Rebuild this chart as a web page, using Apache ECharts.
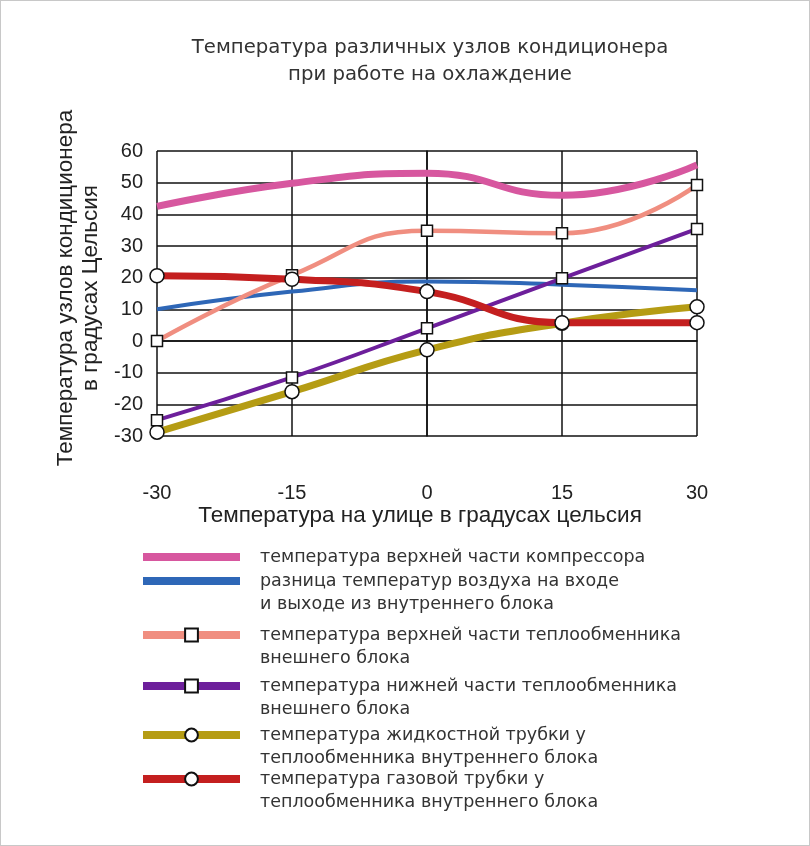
<!DOCTYPE html>
<html><head><meta charset="utf-8">
<script src="https://cdn.jsdelivr.net/npm/echarts@6/dist/echarts.min.js"></script>
<style>
html,body{margin:0;padding:0;background:#fff}
#wrap{position:relative;width:810px;height:846px}
#c{width:810px;height:846px}
#frame{position:absolute;left:0;top:0;width:810px;height:846px;box-sizing:border-box;border:1px solid #c8c8c8;pointer-events:none}
</style>
</head><body><div id="wrap"><div id="c"></div><div id="frame"></div></div>
<script>
// ---- data ----
const outdoorTemps = [-30, -15, 0, 15, 30];
const xTickLabels = ['-30', '-15', '0', '15', '30'];
const compressorTop = [42.5, 49.8, 53, 46, 55.6];
const airDelta = [10, 15.6, 18.8, 17.8, 16];
const outerHxTop = [0, 20.8, 34.8, 34, 49.3];
const outerHxBottom = [-25, -11.5, 4, 19.8, 35.4];
const liquidPipe = [-28.8, -16, -2.8, 5.6, 10.8];
const gasPipe = [20.6, 19.5, 15.6, 5.8, 5.8];

const names = [
  'температура верхней части компрессора',
  'разница температур воздуха на входе\nи выходе из внутреннего блока',
  'температура верхней части теплообменника\nвнешнего блока',
  'температура нижней части теплообменника\nвнешнего блока',
  'температура жидкостной трубки у\nтеплообменника внутреннего блока',
  'температура газовой трубки у\nтеплообменника внутреннего блока'
];
const colors = ['#d7579f', '#2e67b7', '#f08e80', '#6d1f9b', '#b59c14', '#c41f1f'];
const values = [compressorTop, airDelta, outerHxTop, outerHxBottom, liquidPipe, gasPipe];
const symbols = ['none', 'none', 'rect', 'rect', 'circle', 'circle'];
const symbolSizes = [0, 0, 11, 11, 14, 14];
const widths = [7, 4, 4.5, 4, 7, 7];
const drawOrder = [1, 0, 4, 3, 2, 5]; // z order
const legendCenters = [557, 581, 635, 686, 735, 779];
const legendLines = [1, 2, 2, 2, 2, 2];

const FONT = '"Liberation Sans", Arial, sans-serif';
const WIDE = '"DejaVu Sans", Verdana, sans-serif';
const LH = 23;

const series = values.map((vals, i) => ({
  name: names[i],
  type: 'line',
  smooth: 0.5,
  data: outdoorTemps.map((x, k) => [x, vals[k]]),
  symbol: symbols[i],
  symbolSize: symbolSizes[i],
  showSymbol: symbols[i] !== 'none',
  clip: false,
  z: 2 + drawOrder[i],
  lineStyle: { color: colors[i], width: widths[i] },
  itemStyle: { color: '#fff', borderColor: '#111', borderWidth: 1.5 },
  emphasis: { disabled: true }
}));

const legends = names.map((n, i) => {
  const twoLine = legendLines[i] === 2;
  const boxH = twoLine ? LH * 3 : LH;
  const item = { name: n };
  const plain = symbols[i] === 'none';
  if (plain) {
    item.icon = 'rect';
    item.itemStyle = { color: colors[i], borderWidth: 0 };
  } else {
    item.itemStyle = { color: '#fff', borderColor: '#111', borderWidth: 2 };
    item.lineStyle = { color: colors[i], width: 8 };
  }
  return {
    data: [item],
    left: plain ? 143 : 139,
    top: legendCenters[i] - boxH / 2,
    padding: 0,
    selectedMode: false,
    itemWidth: 97,
    itemHeight: plain ? 8 : 16,
    formatter: name => (twoLine ? '\n' + name : name),
    textStyle: {
      fontFamily: WIDE, fontSize: 17.5, color: '#333', lineHeight: LH,
      padding: [0, 0, 0, 15]
    }
  };
});

const chart = echarts.init(document.getElementById('c'), null, { renderer: 'canvas' });
chart.setOption({
  animation: false,
  backgroundColor: '#fff',
  title: {
    text: 'Температура различных узлов кондиционера\nпри работе на охлаждение',
    left: 430,
    textAlign: 'center',
    top: 34,
    padding: 0,
    textStyle: { fontFamily: WIDE, fontSize: 19.7, fontWeight: 'normal', color: '#333', lineHeight: 27 }
  },
  legend: legends,
  grid: { left: 157, right: 113, top: 151, bottom: 410, containLabel: false },
  xAxis: {
    type: 'value', min: -30, max: 30, interval: 15,
    name: 'Температура на улице в градусах цельсия',
    nameLocation: 'middle', nameGap: 64,
    nameTextStyle: { fontFamily: FONT, fontSize: 22.5, color: '#222', padding: [0, 14, 0, 0] },
    axisLine: { show: true, lineStyle: { color: '#111', width: 1.5 } },
    axisTick: { show: false },
    splitLine: { show: true, lineStyle: { color: '#111', width: 1.5 } },
    axisLabel: {
      fontFamily: FONT, fontSize: 20, color: '#222', margin: 47,
      formatter: v => xTickLabels[outdoorTemps.indexOf(v)] ?? ''
    }
  },
  yAxis: {
    type: 'value', min: -30, max: 60, interval: 10,
    name: 'Температура узлов кондиционера\nв градусах Цельсия',
    nameLocation: 'middle', nameGap: 54, nameRotate: 90,
    nameTextStyle: { fontFamily: FONT, fontSize: 22.5, color: '#222', lineHeight: 25, padding: [0, 0, 0, 11] },
    axisLine: { show: true, lineStyle: { color: '#111', width: 1.5 } },
    axisTick: { show: false },
    splitLine: { show: true, lineStyle: { color: '#111', width: 1.5 } },
    axisLabel: { fontFamily: FONT, fontSize: 20, color: '#222', margin: 14 }
  },
  series: series
});
</script></body></html>
